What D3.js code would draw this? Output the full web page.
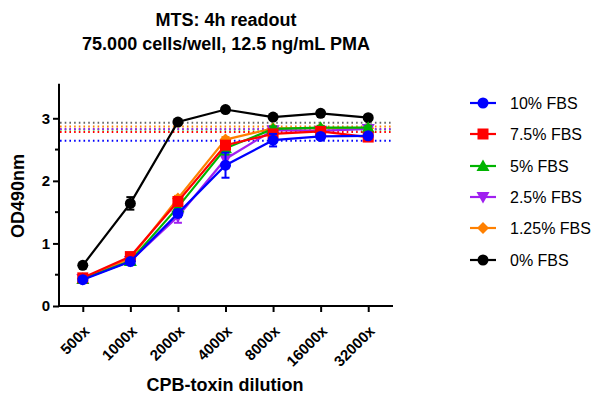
<!DOCTYPE html>
<html><head><meta charset="utf-8">
<script src="https://cdn.jsdelivr.net/npm/d3@7"></script>
<style>body{margin:0;background:#fff}svg{display:block;font-family:"Liberation Sans",Arial,sans-serif}</style>
</head><body><svg id="c" width="595" height="401"></svg>
<script>
const categories = ["500x","1000x","2000x","4000x","8000x","16000x","32000x"];
const seriesNames = ["10% FBS","7.5% FBS","5% FBS","2.5% FBS","1.25% FBS","0% FBS"];
const seriesColors = ["#0000FF","#FF0000","#00B400","#A020F0","#FF8000","#000000"];
const seriesShapes = ["circle","square","triangle","triangleDown","diamond","circle"];
const fbs10  = [0.42,0.71,1.48,2.25,2.65,2.71,2.72];
const fbs7_5 = [0.45,0.79,1.67,2.57,2.75,2.79,2.70];
const fbs5   = [0.43,0.72,1.58,2.52,2.83,2.85,2.85];
const fbs2_5 = [0.43,0.72,1.43,2.35,2.81,2.80,2.83];
const fbs1_25= [0.44,0.76,1.72,2.66,2.84,2.84,2.84];
const fbs0   = [0.65,1.64,2.94,3.14,3.02,3.08,3.01];
const err10  = [0.03,0.03,0.06,0.20,0.10,0.04,0.03];
const err7_5 = [0.03,0.03,0.04,0.05,0.05,0.04,0.05];
const err5   = [0.03,0.03,0.05,0.10,0.04,0.03,0.03];
const err2_5 = [0.03,0.03,0.10,0.15,0.05,0.04,0.06];
const err1_25= [0.03,0.03,0.04,0.04,0.03,0.03,0.03];
const err0   = [0.03,0.10,0.03,0.03,0.03,0.03,0.03];
const controlMeans = [2.64,2.78,2.82,2.83,2.87,2.93];
const yTicks = [0,1,2,3];
const yMinorTicks = [0.5,1.5,2.5];
const titleLines = ["MTS: 4h readout","75.000 cells/well, 12.5 ng/mL PMA"];
const xTitle = "CPB-toxin dilution";
const yTitle = "OD490nm";

const values = [fbs10,fbs7_5,fbs5,fbs2_5,fbs1_25,fbs0];
const errors = [err10,err7_5,err5,err2_5,err1_25,err0];

const svg = d3.select("#c");
const x = d3.scalePoint().domain(categories).range([59,392]).padding(0.5);
const y = d3.scaleLinear().domain([0,3.5]).range([306,87]);

// titles
svg.append("text").attr("x",226).attr("y",26).attr("text-anchor","middle")
  .attr("font-size",18).attr("font-weight","bold").text(titleLines[0]);
svg.append("text").attr("x",226).attr("y",50).attr("text-anchor","middle")
  .attr("font-size",18).attr("font-weight","bold").text(titleLines[1]);

// dotted control lines (drawn under data)
controlMeans.forEach((v,i)=>{
  svg.append("line").attr("x1",60).attr("x2",392).attr("y1",y(v)).attr("y2",y(v))
    .attr("stroke",i===5?"#666":seriesColors[i]).attr("stroke-width",2)
    .attr("stroke-dasharray","1.6,3.1");
});

// axes
const yAxis = d3.axisLeft(y).tickValues(yTicks).tickSize(6).tickPadding(3).tickFormat(d3.format("d"));
const gy = svg.append("g").attr("transform","translate(59,0)").call(yAxis);
gy.select(".domain").attr("stroke-width",2).attr("d","M0,"+y(3.55)+"V"+(y(0)+1));
gy.selectAll(".tick line").attr("stroke-width",2);
gy.selectAll(".tick text").attr("font-size",15).attr("font-weight","bold").attr("font-family","Liberation Sans, Arial, sans-serif").attr("fill","#000");
yMinorTicks.forEach(v=>{
  svg.append("line").attr("x1",55).attr("x2",59).attr("y1",y(v)).attr("y2",y(v)).attr("stroke","#000").attr("stroke-width",2);
});

const xAxis = d3.axisBottom(x).tickSize(6).tickPadding(4);
const gx = svg.append("g").attr("transform","translate(0,306)").call(xAxis);
gx.select(".domain").attr("stroke-width",2).attr("d","M58,0H393");
gx.selectAll(".tick line").attr("stroke-width",2);
gx.selectAll(".tick text").attr("font-size",15).attr("font-weight","bold").attr("font-family","Liberation Sans, Arial, sans-serif")
  .attr("text-anchor","end").attr("x",0).attr("y",0).attr("dy",0).attr("transform","translate(7,26) rotate(-45)");

svg.append("text").attr("x",225).attr("y",391).attr("text-anchor","middle")
  .attr("font-size",18).attr("font-weight","bold").text(xTitle);
svg.append("text").attr("transform","translate(24,196) rotate(-90)").attr("text-anchor","middle")
  .attr("font-size",18).attr("font-weight","bold").text(yTitle);

// marker symbol
function marker(g, shape, color, cx, cy){
  const s = 5.5;
  if(shape==="circle") g.append("circle").attr("cx",cx).attr("cy",cy).attr("r",s).attr("fill",color);
  else if(shape==="square") g.append("rect").attr("x",cx-s).attr("y",cy-s).attr("width",2*s).attr("height",2*s).attr("fill",color);
  else if(shape==="triangle") g.append("path").attr("d",`M${cx},${cy-6.5}L${cx+6.5},${cy+5}L${cx-6.5},${cy+5}Z`).attr("fill",color);
  else if(shape==="triangleDown") g.append("path").attr("d",`M${cx},${cy+6.5}L${cx+6.5},${cy-5}L${cx-6.5},${cy-5}Z`).attr("fill",color);
  else if(shape==="diamond") g.append("path").attr("d",`M${cx},${cy-6}L${cx+6},${cy}L${cx},${cy+6}L${cx-6},${cy}Z`).attr("fill",color);
}

const line = d3.line().x((d,i)=>x(categories[i])).y(d=>y(d));
// draw in reverse so 10% FBS is on top
for(let k=values.length-1;k>=0;k--){
  const g = svg.append("g");
  const col = seriesColors[k];
  g.append("path").attr("d",line(values[k])).attr("fill","none").attr("stroke",col).attr("stroke-width",2.2);
  values[k].forEach((v,i)=>{
    const cx = x(categories[i]), e = errors[k][i];
    g.append("line").attr("x1",cx).attr("x2",cx).attr("y1",y(v-e)).attr("y2",y(v+e)).attr("stroke",col).attr("stroke-width",2);
    [v-e,v+e].forEach(b=>g.append("line").attr("x1",cx-4).attr("x2",cx+4).attr("y1",y(b)).attr("y2",y(b)).attr("stroke",col).attr("stroke-width",2));
    marker(g, seriesShapes[k], col, cx, y(v));
  });
}

// legend
const legRows = [103,134,166,197,228,260];
seriesNames.forEach((n,i)=>{
  const g = svg.append("g");
  g.append("line").attr("x1",470).attr("x2",496).attr("y1",legRows[i]).attr("y2",legRows[i]).attr("stroke",seriesColors[i]).attr("stroke-width",2.2);
  marker(g, seriesShapes[i], seriesColors[i], 483, legRows[i]);
  g.append("text").attr("x",510).attr("y",legRows[i]+5.5).attr("font-size",16).text(n);
});
</script></body></html>
